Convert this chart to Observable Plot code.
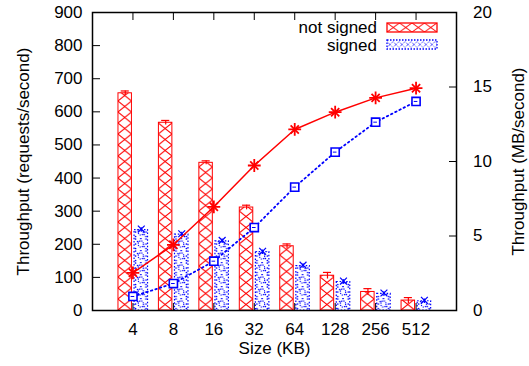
<!DOCTYPE html>
<html><head><meta charset="utf-8">
<script src="https://cdn.jsdelivr.net/npm/d3@7"></script>
<script src="https://cdn.jsdelivr.net/npm/@observablehq/plot@0.6"></script>
<style>body{margin:0;background:#fff} #chart{position:relative;width:529px;height:366px}</style>
</head><body><div id="chart"></div>
<script>
// ---- data ----
const sizes = ["4", "8", "16", "32", "64", "128", "256", "512"];
const seriesNames = ["not signed", "signed"];
const notSignedReq = [656, 567, 446, 311, 194, 105, 56, 30];
const signedReq = [243, 229, 209, 176, 134, 86, 50, 28];
const notSignedErr = [7, 7, 6, 7, 7, 10, 10, 9];
const signedErr = [7, 7, 7, 7, 7, 7, 7, 7];
const notSignedMB = [2.53, 4.41, 6.96, 9.73, 12.15, 13.31, 14.27, 14.92];
const signedMB = [0.94, 1.81, 3.31, 5.57, 8.28, 10.63, 12.64, 14.03];
const leftTicks = [0, 100, 200, 300, 400, 500, 600, 700, 800, 900];
const rightTicks = [0, 5, 10, 15, 20];
const xLabel = "Size (KB)";
const yLeftLabel = "Throughput (requests/second)";
const yRightLabel = "Throughput (MB/second)";

const LEFT_MAX = 900, RIGHT_MAX = 20, k = LEFT_MAX / RIGHT_MAX;
const RED = "#ff0000", BLUE = "#0000ff";

const rows = sizes.map((s, i) => ({
  i, size: s,
  ns: notSignedReq[i], sg: signedReq[i],
  nsErr: notSignedErr[i], sgErr: signedErr[i],
  nsMB: notSignedMB[i] * k, sgMB: signedMB[i] * k
}));
const idx = sizes.map((s, i) => i);

const chart = Plot.plot({
  width: 529, height: 366,
  marginLeft: 92, marginRight: 73, marginTop: 12, marginBottom: 56,
  style: {fontSize: "17px", fontFamily: "'Liberation Sans', Arial, Helvetica, sans-serif", background: "white", color: "black"},
  x: {domain: [-1, 8]},
  y: {domain: [0, LEFT_MAX]},
  marks: [
    // bars
    Plot.rectY(rows, {x1: d => d.i - 0.358, x2: d => d.i - 0.025, y: "ns", fill: "url(#hatchRed)", stroke: RED, strokeWidth: 1}),
    Plot.rectY(rows, {x1: d => d.i + 0.04, x2: d => d.i + 0.373, y: "sg", fill: "url(#dotsBlue)", stroke: BLUE, strokeWidth: 1.2, strokeDasharray: "1.5 1.8"}),
    // bar error bars
    Plot.ruleX(rows, {x: d => d.i - 0.19, y1: d => d.ns - d.nsErr, y2: d => d.ns + d.nsErr, stroke: RED, strokeWidth: 1.2}),
    Plot.ruleY(rows, {y: d => d.ns + d.nsErr, x1: d => d.i - 0.29, x2: d => d.i - 0.09, stroke: RED, strokeWidth: 1.2}),
    Plot.ruleX(rows, {x: d => d.i + 0.206, y1: d => d.sg - d.sgErr, y2: d => d.sg + d.sgErr, stroke: BLUE, strokeWidth: 1.2}),
    Plot.dot(rows, {x: d => d.i + 0.206, y: d => d.sg + d.sgErr * 0.4, symbol: "times", r: 3.2, stroke: BLUE, strokeWidth: 1.2}),
    // lines (right axis, MB/s)
    Plot.line(rows, {x: "i", y: "nsMB", stroke: RED, strokeWidth: 1.5}),
    Plot.dot(rows, {x: "i", y: "nsMB", symbol: "plus", r: 4.2, stroke: RED, strokeWidth: 1.8}),
    Plot.dot(rows, {x: "i", y: "nsMB", symbol: "times", r: 3.8, stroke: RED, strokeWidth: 1.8}),
    Plot.line(rows, {x: "i", y: "sgMB", stroke: BLUE, strokeWidth: 1.8, strokeDasharray: "1.5 3.2"}),
    Plot.dot(rows, {x: "i", y: "sgMB", symbol: "square", r: 4.6, stroke: BLUE, fill: "white", strokeWidth: 1.6}),
    Plot.ruleY(rows, {y: "sgMB", x1: d => d.i - 0.045, x2: d => d.i + 0.045, stroke: BLUE, strokeWidth: 1}),
    // axes
    Plot.axisY({anchor: "left", ticks: leftTicks, tickSize: -8, tickPadding: 18, label: null}),
    Plot.axisY({anchor: "right", ticks: rightTicks.map(v => v * k), tickFormat: v => String(Math.round(v / k)), tickSize: -8, tickPadding: 24.5, label: null}),
    Plot.axisX({anchor: "bottom", ticks: idx, tickFormat: i => sizes[i], tickSize: -7, tickPadding: 19, label: null}),
    Plot.axisX({anchor: "top", ticks: idx, tickFormat: () => "", tickSize: -7, label: null}),
    Plot.frame({stroke: "black", strokeWidth: 1.5}),
    // titles
    Plot.text([yLeftLabel], {text: d => d, frameAnchor: "left", textAnchor: "middle", rotate: -90, dx: -68.5, fontSize: 17}),
    Plot.text([yRightLabel], {text: d => d, frameAnchor: "right", textAnchor: "middle", rotate: -90, dx: 62, fontSize: 17}),
    Plot.text([xLabel], {text: d => d, frameAnchor: "bottom", dy: 43, fontSize: 17})
  ]
});

// patterns aligned to the bars via the scales
const sx = chart.scale("x"), sy = chart.scale("y");
const unit = sx.apply(1) - sx.apply(0);
const tileW = unit / 3, tileH = 11;
const svg = d3.select(chart);
const defs = svg.insert("defs", ":first-child");
const pr = defs.append("pattern").attr("id", "hatchRed").attr("patternUnits", "userSpaceOnUse")
  .attr("x", sx.apply(-0.358)).attr("y", sy.apply(0)).attr("width", tileW).attr("height", tileH);
pr.append("path").attr("d", `M0,0L${tileW},${tileH}M${tileW},0L0,${tileH}`).attr("stroke", RED).attr("stroke-width", 1).attr("fill", "none");
const pb = defs.append("pattern").attr("id", "dotsBlue").attr("patternUnits", "userSpaceOnUse")
  .attr("x", sx.apply(0.04)).attr("y", sy.apply(0)).attr("width", tileW).attr("height", 12);
pb.append("ellipse").attr("cx", tileW / 2).attr("cy", 6).attr("rx", 2.6).attr("ry", 3.2)
  .attr("fill", "none").attr("stroke", BLUE).attr("stroke-width", 1.1).attr("stroke-dasharray", "1.2 1.1");
[[1.5, 1], [tileW - 1.5, 1], [1.5, 6], [tileW - 1.5, 6], [tileW / 2, 0.5], [1.5, 10.5], [tileW - 1.5, 10.5], [3.5, 3.5], [tileW - 3.5, 8.5]].forEach(([cx, cy]) =>
  pb.append("circle").attr("cx", cx).attr("cy", cy).attr("r", 0.85).attr("fill", BLUE));
const lr = defs.append("pattern").attr("id", "legRed").attr("patternUnits", "userSpaceOnUse")
  .attr("x", 387).attr("y", 23).attr("width", 12.5).attr("height", 9);
lr.append("path").attr("d", "M0,0L12.5,9M12.5,0L0,9").attr("stroke", RED).attr("stroke-width", 1).attr("fill", "none");
const lb = defs.append("pattern").attr("id", "legBlue").attr("patternUnits", "userSpaceOnUse")
  .attr("x", 387).attr("y", 40).attr("width", 6).attr("height", 9);
lb.append("path").attr("d", "M0,1.5L3,4.5L6,1.5M0,7.5L3,4.5L6,7.5").attr("stroke", BLUE).attr("stroke-width", 1)
  .attr("stroke-dasharray", "1 1").attr("fill", "none");

// legend
const leg = svg.append("g").attr("font-size", 17);
const legItems = [
  {name: seriesNames[0], y: 27.5, ry: 23, fill: "url(#legRed)", stroke: RED, dash: null},
  {name: seriesNames[1], y: 45, ry: 40, fill: "url(#legBlue)", stroke: BLUE, dash: "1.5 1.5"}
];
legItems.forEach(it => {
  leg.append("text").attr("x", 377).attr("y", it.y).attr("text-anchor", "end").attr("dy", "0.35em").attr("fill", "black").text(it.name);
  leg.append("rect").attr("x", 387).attr("y", it.ry).attr("width", 50).attr("height", 9)
    .attr("fill", it.fill).attr("stroke", it.stroke).attr("stroke-width", 1.3).attr("stroke-dasharray", it.dash);
});

document.getElementById("chart").appendChild(chart);
</script>
</body></html>
